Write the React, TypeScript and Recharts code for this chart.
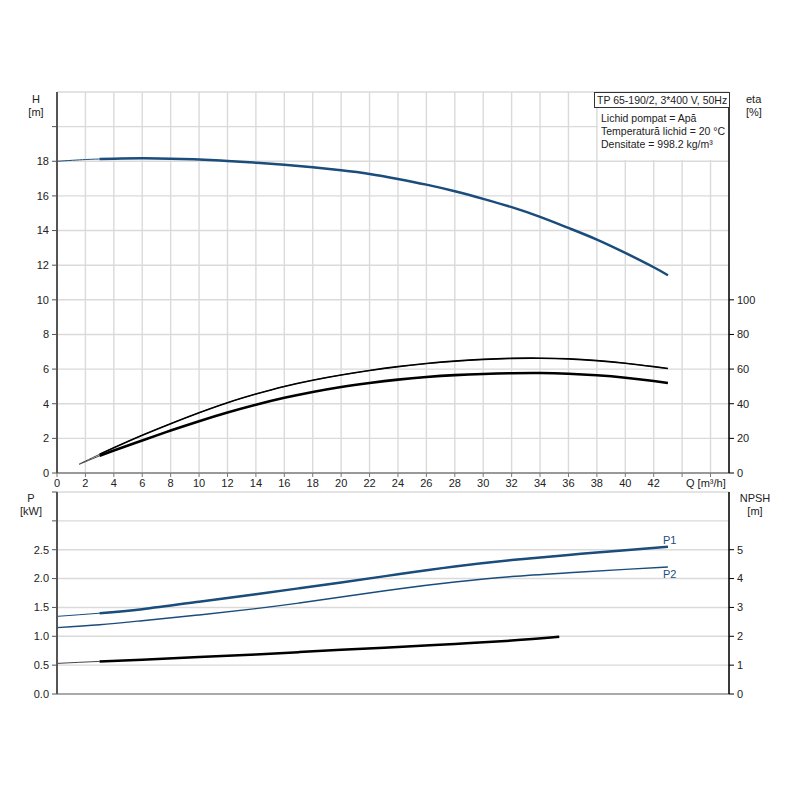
import { ComposedChart, Line, XAxis, YAxis, CartesianGrid } from "recharts";

// pump curve readings, Q in m³/h
const headFlow = [0, 2, 3, 4, 6, 8, 10, 12, 14, 16, 18, 20, 22, 24, 26, 28, 30, 32, 34, 36, 38, 40, 42, 43];
const headValues = [18.0, 18.1, 18.13, 18.15, 18.17, 18.15, 18.1, 18.02, 17.92, 17.8, 17.65, 17.48, 17.27, 16.98, 16.65, 16.27, 15.83, 15.35, 14.79, 14.15, 13.48, 12.71, 11.88, 11.42];

const etaFlow = [1.57, 2, 3, 4, 6, 8, 10, 12, 14, 16, 18, 20, 22, 24, 26, 28, 30, 32, 34, 36, 38, 40, 42, 43];
const etaUpper = [5.2, 6.9, 10.8, 14.6, 21.8, 28.5, 34.8, 40.6, 45.6, 50.0, 53.6, 56.6, 59.2, 61.4, 63.2, 64.6, 65.6, 66.2, 66.3, 65.9, 64.9, 63.4, 61.4, 60.3];
const etaLower = [5.0, 6.5, 9.9, 13.0, 18.8, 24.5, 29.9, 34.9, 39.4, 43.4, 46.8, 49.7, 52.0, 53.9, 55.4, 56.5, 57.2, 57.6, 57.7, 57.3, 56.4, 55.0, 53.1, 52.0];

const powerFlow = [0, 3, 6, 10, 14, 17, 20, 24, 28, 32, 36, 40, 43];
const p1Values = [1.345, 1.4, 1.47, 1.6, 1.73, 1.83, 1.93, 2.075, 2.21, 2.32, 2.41, 2.49, 2.55];
const p2Values = [1.15, 1.2, 1.27, 1.37, 1.48, 1.575, 1.68, 1.82, 1.94, 2.035, 2.1, 2.16, 2.2];

const npshFlow = [0, 3, 6, 10, 14, 17, 20, 24, 28, 32, 35.35];
const npshValues = [1.06, 1.13, 1.19, 1.28, 1.37, 1.45, 1.53, 1.63, 1.735, 1.85, 1.98];

const qTicks = [0, 2, 4, 6, 8, 10, 12, 14, 16, 18, 20, 22, 24, 26, 28, 30, 32, 34, 36, 38, 40, 42, 44, 46];
const hTicks = [0, 2, 4, 6, 8, 10, 12, 14, 16, 18, 20];
const etaTicks = [0, 20, 40, 60, 80, 100];
const pTicks = [0, 0.5, 1.0, 1.5, 2.0, 2.5, 3.0, 3.5];
const npshTicks = [0, 1, 2, 3, 4, 5];

const BLUE = "#1a4c7c";
const GRID = "#dadada";
const FONT = "'Liberation Sans', Arial, sans-serif";

const rows = (qs: number[], vs: number[]) => qs.map((q, i) => ({ q, v: vs[i] }));
const fromDuty = (r: { q: number; v: number }[]) => r.filter(p => p.q >= 3);

const headRows = rows(headFlow, headValues);
const etaUpRows = rows(etaFlow, etaUpper);
const etaLowRows = rows(etaFlow, etaLower);
const p1Rows = rows(powerFlow, p1Values);
const p2Rows = rows(powerFlow, p2Values);
const npshRows = rows(npshFlow, npshValues);

const tickStyle = { fontSize: 11, fill: "#222", fontFamily: FONT };

const txt = (extra: React.CSSProperties): React.CSSProperties => ({
    position: "absolute", fontFamily: FONT, fontSize: 11, color: "#222", lineHeight: "13px", whiteSpace: "nowrap", ...extra
});

export default function App() {
    return (
        <div style={{ position: "absolute", left: 0, top: 0, width: 800, height: 800, background: "#fff" }}>
            <div style={{ position: "absolute", left: 0, top: 0 }}>
                <ComposedChart width={800} height={500} margin={{ top: 92, right: 31, bottom: 7, left: 17 }}>
                    <CartesianGrid yAxisId="h" stroke={GRID} strokeWidth={1.4} />
                    <XAxis type="number" dataKey="q" domain={[0, 47.3]} ticks={qTicks} allowDataOverflow
                        height={20} tickSize={4} tickMargin={2} tick={tickStyle}
                        tickFormatter={(v: number) => (v <= 42 ? String(v) : "")}
                        axisLine={{ stroke: "#999", strokeWidth: 2 }} tickLine={{ stroke: "#777" }} />
                    <YAxis yAxisId="h" domain={[0, 22]} ticks={hTicks} width={40} tickSize={5} tickMargin={3}
                        tick={tickStyle} tickFormatter={(v: number) => (v <= 18 ? String(v) : "")}
                        axisLine={{ stroke: "#555", strokeWidth: 2 }} tickLine={{ stroke: "#555" }} />
                    <YAxis yAxisId="eta" orientation="right" domain={[0, 220]} ticks={etaTicks} width={40}
                        tickSize={5} tickMargin={3} tick={tickStyle}
                        axisLine={{ stroke: "#000", strokeWidth: 1.5 }} tickLine={{ stroke: "#000" }} />
                    <Line yAxisId="h" data={headRows} dataKey="v" type="natural" stroke={BLUE} strokeWidth={1} dot={false} activeDot={false} isAnimationActive={false} />
                    <Line yAxisId="h" data={fromDuty(headRows)} dataKey="v" type="natural" stroke={BLUE} strokeWidth={2.5} dot={false} activeDot={false} isAnimationActive={false} />
                    <Line yAxisId="eta" data={etaUpRows} dataKey="v" type="natural" stroke="#444" strokeWidth={1} dot={false} activeDot={false} isAnimationActive={false} />
                    <Line yAxisId="eta" data={fromDuty(etaUpRows)} dataKey="v" type="natural" stroke="#000" strokeWidth={1.6} dot={false} activeDot={false} isAnimationActive={false} />
                    <Line yAxisId="eta" data={etaLowRows} dataKey="v" type="natural" stroke="#444" strokeWidth={1} dot={false} activeDot={false} isAnimationActive={false} />
                    <Line yAxisId="eta" data={fromDuty(etaLowRows)} dataKey="v" type="natural" stroke="#000" strokeWidth={2.6} dot={false} activeDot={false} isAnimationActive={false} />
                </ComposedChart>
            </div>
            <div style={{ position: "absolute", left: 0, top: 480 }}>
                <ComposedChart width={800} height={240} margin={{ top: 12, right: 31, bottom: 16, left: 17 }}>
                    <CartesianGrid yAxisId="p" stroke={GRID} strokeWidth={1.4} />
                    <XAxis type="number" dataKey="q" domain={[0, 47.3]} ticks={qTicks} allowDataOverflow
                        height={10} tick={false} tickLine={false}
                        axisLine={{ stroke: "#aaa", strokeWidth: 2 }} />
                    <YAxis yAxisId="p" domain={[0, 3.5]} ticks={pTicks} width={40} tickSize={5} tickMargin={3}
                        tick={tickStyle} tickFormatter={(v: number) => (v <= 2.5 ? v.toFixed(1) : "")}
                        axisLine={{ stroke: "#555", strokeWidth: 2 }} tickLine={{ stroke: "#555" }} />
                    <YAxis yAxisId="npsh" orientation="right" domain={[0, 7]} ticks={npshTicks} width={40}
                        tickSize={5} tickMargin={3} tick={tickStyle}
                        axisLine={{ stroke: "#000", strokeWidth: 1.5 }} tickLine={{ stroke: "#000" }} />
                    <Line yAxisId="p" data={p1Rows} dataKey="v" type="natural" stroke={BLUE} strokeWidth={1} dot={false} activeDot={false} isAnimationActive={false} />
                    <Line yAxisId="p" data={fromDuty(p1Rows)} dataKey="v" type="natural" stroke={BLUE} strokeWidth={2.5} dot={false} activeDot={false} isAnimationActive={false} />
                    <Line yAxisId="p" data={p2Rows} dataKey="v" type="natural" stroke={BLUE} strokeWidth={1.4} dot={false} activeDot={false} isAnimationActive={false} />
                    <Line yAxisId="npsh" data={npshRows} dataKey="v" type="natural" stroke="#444" strokeWidth={1} dot={false} activeDot={false} isAnimationActive={false} />
                    <Line yAxisId="npsh" data={fromDuty(npshRows)} dataKey="v" type="natural" stroke="#000" strokeWidth={2.5} dot={false} activeDot={false} isAnimationActive={false} />
                </ComposedChart>
            </div>

            {/* header box and fluid info */}
            <div style={{ position: "absolute", left: 598, top: 107, width: 130, height: 53, background: "#fff" }} />
            <div style={txt({ left: 594, top: 92, width: 132, height: 14, border: "1px solid #333", background: "#fff", fontSize: 10.5, lineHeight: "14px", paddingLeft: 2 })}>TP 65-190/2, 3*400 V, 50Hz</div>
            <div style={txt({ left: 601, top: 112, fontSize: 10.5 })}>
                Lichid pompat = Apă<br />Temperatură lichid = 20 °C<br />Densitate = 998.2 kg/m³
            </div>

            {/* axis titles */}
            <div style={txt({ left: 26, top: 93, width: 20, textAlign: "center" })}>H<br />[m]</div>
            <div style={txt({ left: 746, top: 93 })}>eta<br />[%]</div>
            <div style={txt({ left: 686, top: 477 })}>Q [m³/h]</div>
            <div style={txt({ left: 16, top: 492, width: 30, textAlign: "center" })}>P<br />[kW]</div>
            <div style={txt({ left: 738, top: 492, width: 34, textAlign: "center" })}>NPSH<br />[m]</div>
            <div style={txt({ left: 663, top: 534, color: BLUE })}>P1</div>
            <div style={txt({ left: 663, top: 568, color: BLUE })}>P2</div>
        </div>
    );
}
